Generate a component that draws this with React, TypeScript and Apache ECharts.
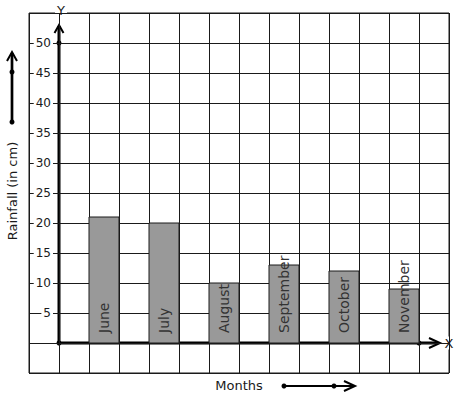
import React, { useEffect, useRef } from "react";
import * as echarts from "echarts";

const months = ["June", "July", "August", "September", "October", "November"];
const rainfall = [21, 20, 10, 13, 12, 9];
const yLabelValues = [5, 10, 15, 20, 25, 30, 35, 40, 45, 50];

const FONT = "DejaVu Sans";
const INK = "#1a1a1a";

export default function App() {
  const ref = useRef<HTMLDivElement>(null);
  useEffect(() => {
    if (!ref.current) return;
    const chart = echarts.init(ref.current, undefined, { renderer: "svg" });
    const data = months.map((m, i) => [i, rainfall[i]]);
    chart.setOption({
      animation: false,
      backgroundColor: "#fff",
      grid: { left: 29, right: 8, top: 13, bottom: 26, show: true, borderColor: INK, borderWidth: 1 },
      xAxis: {
        type: "value",
        min: -1,
        max: 13,
        interval: 1,
        axisLine: { show: false },
        axisTick: { show: false },
        axisLabel: { show: false },
        splitLine: { show: true, lineStyle: { color: INK, width: 1 } },
      },
      yAxis: {
        type: "value",
        min: -5,
        max: 55,
        interval: 5,
        offset: -30,
        axisLine: { show: false },
        axisTick: { show: false },
        splitLine: { show: true, lineStyle: { color: INK, width: 1 } },
        axisLabel: {
          margin: 6,
          fontFamily: FONT,
          fontSize: 12,
          color: INK,
          backgroundColor: "#fff",
          padding: [0, 2],
          formatter: (v: number) => (yLabelValues.indexOf(v) >= 0 ? String(v) : ""),
        },
      },
      series: [
        {
          type: "custom",
          data,
          renderItem: (params: any, api: any) => {
            const i = api.value(0);
            const v = api.value(1);
            const p0 = api.coord([2 * i + 1, 0]);
            const p1 = api.coord([2 * i + 2, v]);
            const cx = (p0[0] + p1[0]) / 2;
            return {
              type: "group",
              children: [
                {
                  type: "rect",
                  shape: { x: p0[0], y: p1[1], width: p1[0] - p0[0], height: p0[1] - p1[1] },
                  style: { fill: "#999999", stroke: INK, lineWidth: 1 },
                },
                {
                  type: "text",
                  x: cx,
                  y: p0[1] - 10,
                  rotation: Math.PI / 2,
                  style: {
                    text: months[i],
                    fontFamily: FONT,
                    fontSize: 14,
                    fill: "#333333",
                    align: "left",
                    verticalAlign: "middle",
                  },
                },
              ],
            };
          },
        },
      ],
      graphic: [
        // main y axis
        { type: "line", shape: { x1: 59, y1: 343, x2: 59, y2: 26 }, style: { stroke: "#000", lineWidth: 3 } },
        { type: "polyline", shape: { points: [[54.5, 33], [59, 25], [63.5, 33]] }, style: { stroke: "#000", lineWidth: 2, fill: null } },
        // main x axis
        { type: "line", shape: { x1: 59, y1: 343, x2: 438, y2: 343 }, style: { stroke: "#000", lineWidth: 3 } },
        { type: "polyline", shape: { points: [[429, 338], [440, 343], [429, 348]] }, style: { stroke: "#000", lineWidth: 2, fill: null } },
        { type: "circle", shape: { cx: 59, cy: 43, r: 2.5 }, style: { fill: "#000" } },
        { type: "circle", shape: { cx: 59, cy: 343, r: 2.5 }, style: { fill: "#000" } },
        { type: "circle", shape: { cx: 419, cy: 343, r: 2.5 }, style: { fill: "#000" } },
        {
          type: "text", x: 61, y: 10,
          style: { text: "Y", fontFamily: FONT, fontSize: 13, fill: INK, align: "center", verticalAlign: "middle", backgroundColor: "#fff", padding: [0, 2] },
        },
        {
          type: "text", x: 449, y: 343,
          style: { text: "X", fontFamily: FONT, fontSize: 13, fill: INK, align: "center", verticalAlign: "middle", backgroundColor: "#fff", padding: [0, 1] },
        },
        // left arrow
        { type: "line", shape: { x1: 12, y1: 122, x2: 12, y2: 53 }, style: { stroke: "#000", lineWidth: 2.7 } },
        { type: "polyline", shape: { points: [[7, 61], [12, 52], [17, 61]] }, style: { stroke: "#000", lineWidth: 2, fill: null } },
        { type: "circle", shape: { cx: 12, cy: 72, r: 2.5 }, style: { fill: "#000" } },
        { type: "circle", shape: { cx: 12, cy: 122, r: 2.5 }, style: { fill: "#000" } },
        {
          type: "text", x: 12, y: 191, rotation: Math.PI / 2,
          style: { text: "Rainfall (in cm)", fontFamily: FONT, fontSize: 13, fill: INK, align: "center", verticalAlign: "middle" },
        },
        // bottom
        {
          type: "text", x: 239, y: 385,
          style: { text: "Months", fontFamily: FONT, fontSize: 13, fill: INK, align: "center", verticalAlign: "middle" },
        },
        { type: "line", shape: { x1: 284, y1: 386, x2: 353, y2: 386 }, style: { stroke: "#000", lineWidth: 2 } },
        { type: "polyline", shape: { points: [[344, 381], [355, 386], [344, 391]] }, style: { stroke: "#000", lineWidth: 2, fill: null } },
        { type: "circle", shape: { cx: 284, cy: 386, r: 2.5 }, style: { fill: "#000" } },
        { type: "circle", shape: { cx: 334, cy: 386, r: 2.5 }, style: { fill: "#000" } },
      ],
    });
    return () => chart.dispose();
  }, []);
  return <div ref={ref} style={{ position: "fixed", left: 0, top: 0, width: 457, height: 399 }} />;
}
